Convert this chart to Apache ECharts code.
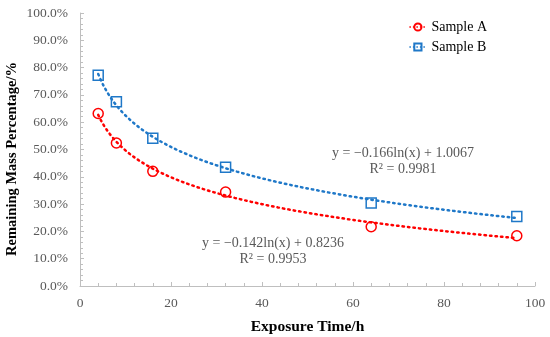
<!DOCTYPE html>
<html><head><meta charset="utf-8">
<script src="https://cdn.jsdelivr.net/npm/echarts@6/dist/echarts.min.js"></script>
<style>html,body{margin:0;padding:0;background:#fff}#c{width:550px;height:337px}</style>
</head><body><div id="c"></div>
<script>
const times = [4, 8, 16, 32, 64, 96];
const sampleA = [63.2, 52.4, 42.0, 34.4, 21.7, 18.4];
const sampleB = [77.2, 67.5, 54.1, 43.5, 30.4, 25.5];
const fitA = [-0.142, 0.8236]; // y = a ln(x) + b (fraction)
const fitB = [-0.166, 1.0067];
const eqA = ['y = \u22120.142ln(x) + 0.8236', 'R\u00b2 = 0.9953'];
const eqB = ['y = \u22120.166ln(x) + 1.0067', 'R\u00b2 = 0.9981'];
const yTitle = 'Remaining Mass Percentage/%';
const xTitle = 'Exposure Time/h';
const colA = '#FF0000', colB = '#1F78C8';
const font = '"Liberation Serif","Times New Roman",serif';

function trend(c) {
  const pts = [];
  for (let x = times[0]; x <= times[times.length - 1] + 1e-9; x += 0.5) {
    pts.push([x, (c[0] * Math.log(x) + c[1]) * 100]);
  }
  return pts;
}

const chart = echarts.init(document.getElementById('c'));
chart.setOption({
  animation: false,
  backgroundColor: '#fff',
  grid: { left: 80, right: 15, top: 13, bottom: 51, containLabel: false, outerBoundsMode: 'none' },
  legend: {
    right: 58, top: 15, orient: 'vertical', itemGap: 6, itemWidth: 17, itemHeight: 9,
    textStyle: { fontFamily: font, fontSize: 14, color: '#000' },
    data: [
      { name: 'Sample A', lineStyle: { color: colA, width: 1.5, type: [1.5, 2], opacity: 1 } },
      { name: 'Sample B', lineStyle: { color: colB, width: 1.5, type: [1.5, 2], opacity: 1 } }
    ]
  },
  xAxis: {
    type: 'value', min: 0, max: 100, interval: 20,
    name: xTitle, nameLocation: 'middle', nameGap: 33,
    nameTextStyle: { fontFamily: font, fontSize: 15.5, fontWeight: 'bold', color: '#000' },
    axisLine: { show: true, lineStyle: { color: '#BFBFBF' } },
    axisTick: { show: true, inside: true, length: 4, lineStyle: { color: '#BFBFBF' } },
    minorTick: { show: true, splitNumber: 5, length: 3, lineStyle: { color: '#BFBFBF' } },
    axisLabel: { fontFamily: font, fontSize: 13.5, color: '#595959', margin: 10 },
    splitLine: { show: false }
  },
  yAxis: {
    type: 'value', min: 0, max: 100, interval: 10,
    axisLine: { show: true, lineStyle: { color: '#BFBFBF' } },
    axisTick: { show: true, inside: true, length: 4, lineStyle: { color: '#BFBFBF' } },
    minorTick: { show: true, splitNumber: 5, length: 3, lineStyle: { color: '#BFBFBF' } },
    axisLabel: { fontFamily: font, fontSize: 13.5, color: '#595959', margin: 12,
      formatter: v => v.toFixed(1) + '%' },
    splitLine: { show: false }
  },
  series: [
    { name: 'trendA', type: 'line', data: trend(fitA), showSymbol: false, silent: true,
      lineStyle: { color: colA, width: 2.5, type: [1.5, 4], cap: 'round' }, z: 2 },
    { name: 'trendB', type: 'line', data: trend(fitB), showSymbol: false, silent: true,
      lineStyle: { color: colB, width: 2.5, type: [1.5, 4], cap: 'round' }, z: 2 },
    { name: 'Sample A', type: 'line', data: times.map((t, i) => [t, sampleA[i]]),
      symbol: 'circle', symbolSize: 10, lineStyle: { width: 0, color: colA },
      itemStyle: { color: 'rgba(255,255,255,0)', borderColor: colA, borderWidth: 1.5 }, z: 3,
      color: colA },
    { name: 'Sample B', type: 'line', data: times.map((t, i) => [t, sampleB[i]]),
      symbol: 'rect', symbolSize: 10, lineStyle: { width: 0, color: colB },
      itemStyle: { color: 'rgba(255,255,255,0)', borderColor: colB, borderWidth: 1.5 }, z: 3,
      color: colB }
  ],
  graphic: [
    { type: 'text', x: 12, y: 159, rotation: Math.PI / 2,
      style: { text: yTitle, font: 'bold 14.5px ' + font, fill: '#000', align: 'center', verticalAlign: 'middle' } },
    { type: 'text', left: 332, top: 145, style: { text: eqB[0] + '\n' + eqB[1], align: 'center',
      font: '14px ' + font, fill: '#595959', lineHeight: 16, textAlign: 'center' } },
    { type: 'text', left: 202, top: 235, style: { text: eqA[0] + '\n' + eqA[1], align: 'center',
      font: '14px ' + font, fill: '#595959', lineHeight: 16, textAlign: 'center' } }
  ]
});
</script></body></html>
